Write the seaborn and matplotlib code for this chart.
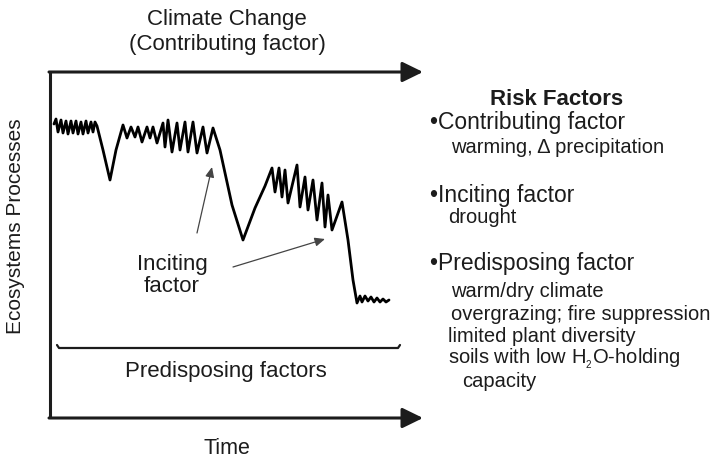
import numpy as np
import pandas as pd
import matplotlib
matplotlib.use("Agg")
import matplotlib.pyplot as plt
import seaborn as sns

# ecosystem process trajectory (time, level)
time = [4, 6, 8, 11, 13, 16, 18, 21, 23, 26, 28, 31, 33, 36, 38, 41, 43, 45, 47,
        53, 60, 66, 73,
        77, 81, 85, 88, 92, 97, 100, 103, 107, 113, 115, 118, 122, 127, 130, 135,
        138, 143, 147, 153, 157, 163,
        170, 182, 193, 205, 215, 222,
        225, 229, 232, 235, 238, 247, 250, 255, 258, 263, 267, 272, 275, 278, 282, 292,
        298, 303, 307,
        310, 312, 315, 318, 321, 324, 327, 330, 333, 336, 339]
level = [294, 299, 286, 298, 285, 297, 284, 297, 285, 297, 284, 296, 284, 297, 285, 296, 286, 296, 292,
         268, 238, 268, 293,
         280, 291, 281, 291, 276, 291, 280, 291, 275, 295, 271, 298, 266, 295, 268, 296,
         266, 296, 265, 291, 265, 290,
         268, 213, 178, 210, 232, 250,
         226, 250, 221, 248, 215, 253, 211, 241, 208, 238, 198, 235, 191, 223, 188, 216,
         178, 138, 115,
         122, 116, 122, 117, 121, 116, 120, 116, 119, 116, 118]

df = pd.DataFrame({"Time": time, "Level": level})

risk_lines = [
    ("\u2022Contributing factor", 430, 289, 16.5),
    ("warming, \u0394 precipitation", 451, 265, 14.5),
    ("\u2022Inciting factor", 430, 216, 16.5),
    ("drought", 448, 195, 14.5),
    ("\u2022Predisposing factor", 430, 148, 16.5),
    ("warm/dry climate", 451, 121, 14.5),
    ("overgrazing; fire suppression", 451, 98, 14.5),
    ("limited plant diversity", 448, 76, 14.5),
    ("soils with low H$_{_2}$O-holding", 448, 55, 14.5),
    ("capacity", 462, 31, 14.5),
]

sns.set_theme(style="white")
plt.rcParams["font.family"] = ["Liberation Sans", "DejaVu Sans"]
plt.rcParams["mathtext.fontset"] = "custom"
plt.rcParams["mathtext.rm"] = "Liberation Sans"
plt.rcParams["mathtext.it"] = "Liberation Sans:italic"

fig = plt.figure(figsize=(7.14, 4.61), dpi=100)
ax = fig.add_axes([0, 0, 1, 1])
ax.set_xlim(-50, 664)
ax.set_ylim(-43, 418)
ax.axis("off")

ink = "#1c1c1c"

# axes frame: vertical line + two arrows
ax.plot([0, 0], [0, 346], color=ink, lw=2.2, solid_capstyle="butt")
for yy in (346, 0):
    ax.annotate("", xy=(373, yy), xytext=(-1, yy),
                arrowprops=dict(arrowstyle="-|>,head_length=0.45,head_width=0.22",
                                mutation_scale=28, lw=2.2, color=ink,
                                shrinkA=0, shrinkB=0))

# trajectory
sns.lineplot(data=df, x="Time", y="Level", sort=False, estimator=None,
             color="black", lw=2.0, ax=ax)
ax.set_xlabel("")
ax.set_ylabel("")

# inciting factor arrows
for tail, head in [((147, 185), (162, 251)), ((183, 151), (275, 179))]:
    ax.annotate("", xy=head, xytext=tail,
                arrowprops=dict(arrowstyle="-|>,head_length=0.5,head_width=0.22",
                                mutation_scale=12, lw=0.9, color="#444444",
                                shrinkA=0, shrinkB=0))

# brace under trajectory
ax.plot([7, 9, 348, 350], [73, 70, 70, 73], color=ink, lw=1.6)

ax.text(177, 393, "Climate Change", ha="center", va="baseline", fontsize=16, color=ink)
ax.text(177, 368, "(Contributing factor)", ha="center", va="baseline", fontsize=16, color=ink)
ax.text(-34, 192, "Ecosystems Processes", ha="center", va="center", rotation=90,
        fontsize=15, color=ink)
ax.text(122, 148, "Inciting", ha="center", va="baseline", fontsize=16, color=ink)
ax.text(122, 126, "factor", ha="center", va="baseline", fontsize=16, color=ink)
ax.text(176, 41, "Predisposing factors", ha="center", va="baseline", fontsize=16, color=ink)
ax.text(177, -36, "Time", ha="center", va="baseline", fontsize=15.5, color=ink)

ax.text(507, 313, "Risk Factors", ha="center", va="baseline", fontsize=16,
        fontweight="bold", color=ink)
for label, x, y, fs in risk_lines:
    ax.text(x - 50, y, label, ha="left", va="baseline", fontsize=fs, color=ink)

plt.savefig("out.png", dpi=100)
